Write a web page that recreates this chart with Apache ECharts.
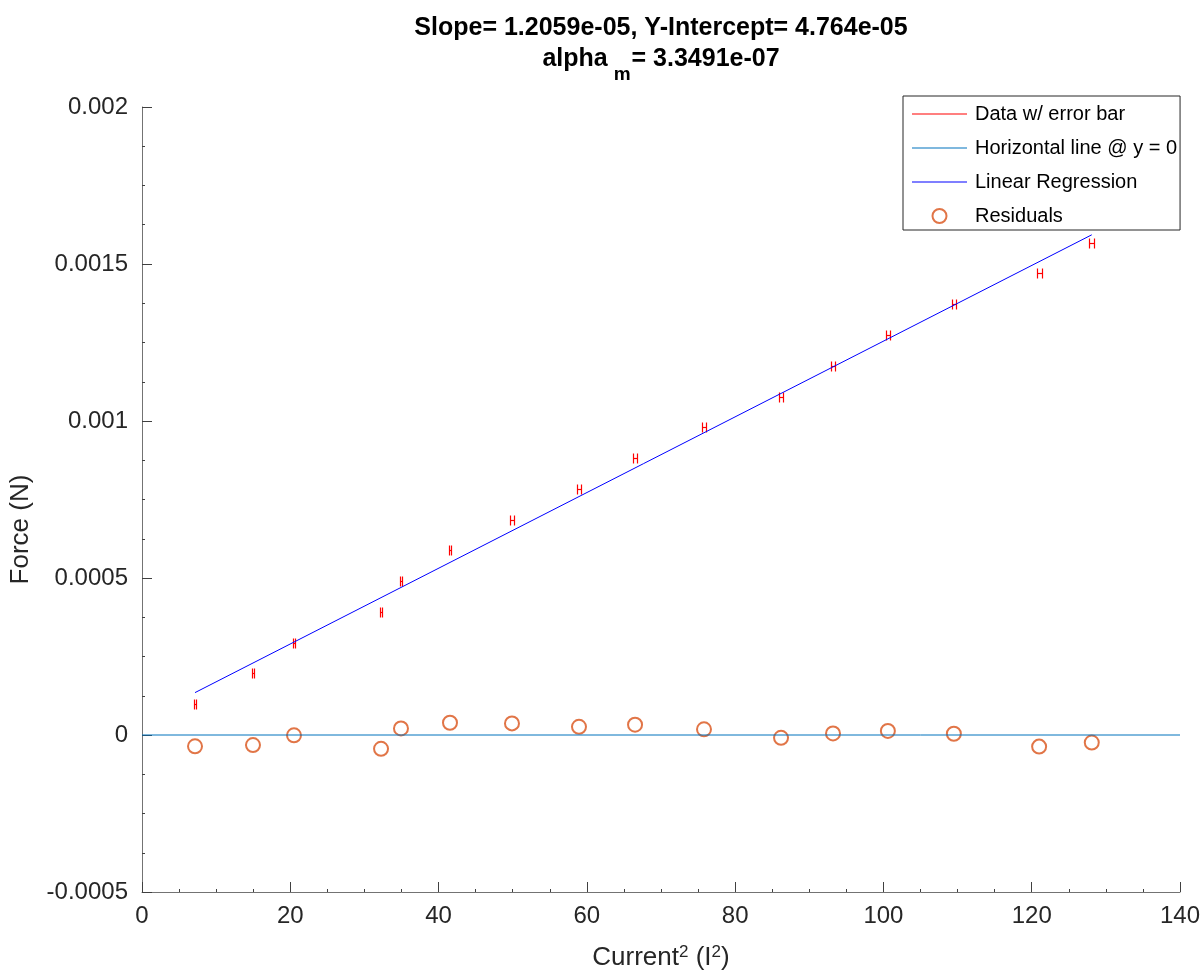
<!DOCTYPE html>
<html><head><meta charset="utf-8">
<script src="https://cdn.jsdelivr.net/npm/echarts@6/dist/echarts.min.js"></script>
<style>html,body{margin:0;padding:0;background:#fff}#c{width:1203px;height:974px}</style>
</head><body><div id="c"></div>
<script>
// Data
const currentSq = [7.15, 14.97, 20.5, 32.24, 34.93, 41.54, 49.9, 58.94, 66.5, 75.8, 86.19, 93.2, 100.6, 109.5, 121.0, 128.1];
const force = [0.000098, 0.000196, 0.000294, 0.000392, 0.00049, 0.000588, 0.000686, 0.000784, 0.000882, 0.00098, 0.001078, 0.001176, 0.001274, 0.001372, 0.00147, 0.001568];
const xErr = [0.08, 0.12, 0.14, 0.17, 0.18, 0.19, 0.21, 0.23, 0.24, 0.26, 0.28, 0.29, 0.30, 0.31, 0.33, 0.34];
const residuals = [-0.000036, -0.000032, -0.000001, -0.000044, 0.000021, 0.000039, 0.000037, 0.000026, 0.000033, 0.000018, -0.000009, 0.000005, 0.000013, 0.000004, -0.000037, -0.000024];
const regX = [7.15, 128.1];
const regY = [0.000135, 0.001593];
const zeroX = [0, 140];
const zeroY = [0, 0];
const yTickLabels = ['-0.0005', '0', '0.0005', '0.001', '0.0015', '0.002'];
const xTickLabels = ['0', '20', '40', '60', '80', '100', '120', '140'];

const FONT = "'Liberation Sans', Arial, Helvetica, sans-serif";
const chart = echarts.init(document.getElementById('c'), null, {renderer: 'canvas'});

const LINE_ICON = 'path://M0,0 M0,6.5 L55,6.5 L55,7.5 L0,7.5 Z M55,14';

const axisCommon = {
  axisLine: {show: true, onZero: false, lineStyle: {color: '#737373', width: 1}},
  axisTick: {show: true, inside: true, length: 10, lineStyle: {color: '#404040', width: 1}},
  minorTick: {show: true, splitNumber: 4, length: 3, lineStyle: {color: '#404040', width: 1}},
  splitLine: {show: false},
  minorSplitLine: {show: false}
};

const option = {
  animation: false,
  backgroundColor: '#ffffff',
  title: [
    {
      text: 'Slope= 1.2059e-05, Y-Intercept= 4.764e-05',
      left: 661, top: 13, padding: 0, textAlign: 'center',
      textStyle: {fontFamily: FONT, fontSize: 25, fontWeight: 'bold', color: '#000', lineHeight: 30}
    },
    {
      text: '{b|alpha}{m|m}{b|= 3.3491e-07}',
      left: 661, top: 44, padding: 0, textAlign: 'center',
      textStyle: {
        fontFamily: FONT,
        rich: {
          b: {fontFamily: FONT, fontSize: 25, fontWeight: 'bold', color: '#000', lineHeight: 30},
          m: {fontFamily: FONT, fontSize: 19, fontWeight: 'bold', color: '#000', lineHeight: 19, padding: [32, 1, 0, 6]}
        }
      }
    }
  ],
  legend: {
    orient: 'vertical',
    left: 903, top: 96,
    padding: [6, 3, 2, 9],
    itemWidth: 55, itemHeight: 14, itemGap: 10,
    backgroundColor: '#ffffff',
    borderColor: '#262626', borderWidth: 1,
    selectedMode: false,
    textStyle: {fontFamily: FONT, fontSize: 20, color: '#000', lineHeight: 24, padding: [0, 0, 0, 3]},
    data: [
      {name: 'Data w/ error bar', icon: LINE_ICON},
      {name: 'Horizontal line @ y = 0', icon: LINE_ICON},
      {name: 'Linear Regression', icon: LINE_ICON},
      {name: 'Residuals'}
    ]
  },
  grid: {left: 142, right: 23, top: 107, bottom: 82, containLabel: false, outerBoundsMode: 'none'},
  xAxis: Object.assign({
    type: 'value', min: 0, max: 140, interval: 20,
    name: '{a|Current}{s|2}{a| (I}{s|2}{a|)}',
    nameLocation: 'middle', nameGap: 51,
    nameTextStyle: {
      fontFamily: FONT,
      rich: {
        a: {fontFamily: FONT, fontSize: 26, color: '#262626', lineHeight: 30},
        s: {fontFamily: FONT, fontSize: 17, color: '#262626', lineHeight: 17, padding: [0, 0, 12, 0]}
      }
    },
    axisLabel: {
      fontFamily: FONT, fontSize: 24, color: '#262626', margin: 12,
      formatter: (v, i) => xTickLabels[i]
    }
  }, axisCommon),
  yAxis: Object.assign({
    type: 'value', min: -0.0005, max: 0.002, interval: 0.0005,
    name: 'Force (N)', nameLocation: 'middle', nameGap: 94,
    nameTextStyle: {fontFamily: FONT, fontSize: 26, color: '#262626', lineHeight: 30, padding: [0, 60, 0, 0]},
    axisLabel: {
      fontFamily: FONT, fontSize: 24, color: '#262626', margin: 14,
      formatter: (v, i) => yTickLabels[i]
    }
  }, axisCommon),
  series: [
    {
      name: 'Data w/ error bar', type: 'custom',
      data: currentSq.map((x, i) => [x, force[i], xErr[i]]),
      encode: {x: 0, y: 1},
      renderItem: function (params, api) {
        const x = api.value(0), y = api.value(1), e = api.value(2);
        const pL = api.coord([x - e, y]);
        const pR = api.coord([x + e, y]);
        const xl = Math.round(pL[0]) + 0.5;
        const xr = Math.max(Math.round(pR[0]) + 0.5, xl + 1);
        const yc = Math.round(pL[1]) + 0.5;
        const h = 5;
        const style = {stroke: '#ff0000', lineWidth: 1.2};
        return {
          type: 'group',
          children: [
            {type: 'line', shape: {x1: xl, y1: yc, x2: xr, y2: yc}, style: style},
            {type: 'line', shape: {x1: xl, y1: yc - h, x2: xl, y2: yc + h}, style: style},
            {type: 'line', shape: {x1: xr, y1: yc - h, x2: xr, y2: yc + h}, style: style}
          ]
        };
      },
      itemStyle: {color: '#ff0000'}
    },
    {
      name: 'Horizontal line @ y = 0', type: 'line',
      data: zeroX.map((x, i) => [x, zeroY[i]]),
      symbol: 'none', lineStyle: {color: '#0072bd', width: 1}, itemStyle: {color: '#0072bd'}
    },
    {
      name: 'Linear Regression', type: 'line',
      data: regX.map((x, i) => [x, regY[i]]),
      symbol: 'none', lineStyle: {color: '#0000ff', width: 1}, itemStyle: {color: '#0000ff'}
    },
    {
      name: 'Residuals', type: 'scatter',
      data: currentSq.map((x, i) => [x, residuals[i]]),
      symbol: 'emptyCircle', symbolSize: 14,
      itemStyle: {color: '#d95319', borderColor: '#d95319', borderWidth: 1}
    }
  ]
};
chart.setOption(option);
</script>
</body></html>
